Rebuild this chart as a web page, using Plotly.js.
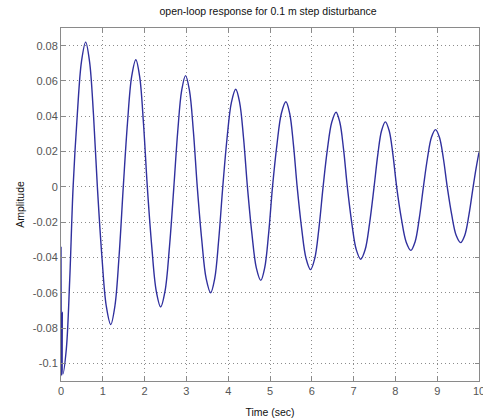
<!DOCTYPE html>
<html>
<head>
<meta charset="utf-8">
<script src="https://cdn.plot.ly/plotly-3.0.1.min.js"></script>
<style>html,body{margin:0;padding:0;background:#fff;}#chart{width:483px;height:418px;}</style>
</head>
<body>
<div id="chart"></div>
<script>
// Values: initial transient, then for every oscillation
// the extremes, zero crossings and points along each slope.
const timeSec = [0, 0.012, 0.03, 0.045, 0.127, 0.208, 0.29,
  0.39, 0.49, 0.59, 0.683, 0.777, 0.87,
  0.977, 1.083, 1.19, 1.29, 1.39, 1.49,
  1.59, 1.69, 1.79, 1.882, 1.973, 2.065,
  2.172, 2.278, 2.385, 2.49, 2.595, 2.70,
  2.793, 2.887, 2.98, 3.073, 3.167, 3.26,
  3.367, 3.473, 3.58, 3.677, 3.773, 3.87,
  3.973, 4.077, 4.18, 4.273, 4.367, 4.46,
  4.567, 4.673, 4.78, 4.873, 4.967, 5.06,
  5.167, 5.273, 5.38, 5.47, 5.56, 5.65,
  5.757, 5.863, 5.97, 6.07, 6.17, 6.27,
  6.373, 6.477, 6.58, 6.67, 6.76, 6.85,
  6.957, 7.063, 7.17, 7.277, 7.383, 7.49,
  7.58, 7.67, 7.76, 7.85, 7.94, 8.03,
  8.143, 8.257, 8.37, 8.47, 8.57, 8.67,
  8.767, 8.863, 8.96, 9.053, 9.147, 9.24,
  9.347, 9.453, 9.56, 9.66, 9.76, 9.86,
  9.93, 10];
const amplitude = [-0.034, -0.107, -0.071, -0.106, -0.092, -0.053, 0,
  0.041, 0.071, 0.082, 0.071, 0.041, 0,
  -0.039, -0.0675, -0.078, -0.0675, -0.039, 0,
  0.036, 0.0624, 0.072, 0.0624, 0.036, 0,
  -0.034, -0.0589, -0.068, -0.0589, -0.034, 0,
  0.0315, 0.0546, 0.063, 0.0546, 0.0315, 0,
  -0.030, -0.052, -0.060, -0.052, -0.030, 0,
  0.0277, 0.0479, 0.0553, 0.0479, 0.0277, 0,
  -0.0265, -0.0459, -0.053, -0.0459, -0.0265, 0,
  0.0241, 0.0417, 0.0482, 0.0417, 0.0241, 0,
  -0.0235, -0.0406, -0.0469, -0.0406, -0.0235, 0,
  0.0212, 0.0366, 0.0423, 0.0366, 0.0212, 0,
  -0.0205, -0.0355, -0.041, -0.0355, -0.0205, 0,
  0.0184, 0.0319, 0.0368, 0.0319, 0.0184, 0,
  -0.018, -0.0312, -0.036, -0.0312, -0.018, 0,
  0.0162, 0.0281, 0.0324, 0.0281, 0.0162, 0,
  -0.0158, -0.0274, -0.0316, -0.0274, -0.0158, 0,
  0.0105, 0.0196];
const xTicks = [0,1,2,3,4,5,6,7,8,9,10];
const yTicks = [-0.1,-0.08,-0.06,-0.04,-0.02,0,0.02,0.04,0.06,0.08];
const yTickText = ['-0.1','-0.08','-0.06','-0.04','-0.02','0','0.02','0.04','0.06','0.08'];

const FONT = 'Liberation Sans, Arial, sans-serif';
const trace = {
  x: timeSec, y: amplitude, type: 'scatter', mode: 'lines',
  line: {color: '#30309e', width: 1.4, shape: 'spline', smoothing: 1.0},
  hoverinfo: 'skip'
};
const axisCommon = {
  showline: true, linecolor: '#8a8a8a', linewidth: 1, mirror: 'ticks',
  ticks: 'inside', ticklen: 4, tickcolor: '#8a8a8a',
  showgrid: true, gridcolor: '#8c8c8c', griddash: '1px,3px', gridwidth: 1,
  zeroline: false,
  tickfont: {family: FONT, size: 11, color: '#555'}
};
const layout = {
  width: 483, height: 418,
  margin: {l: 61, r: 4, t: 28, b: 37},
  paper_bgcolor: '#fff', plot_bgcolor: '#fff',
  showlegend: false,
  title: {text: 'open-loop response for 0.1 m step disturbance',
          font: {family: FONT, size: 10.5, color: '#111'},
          x: 0.555, xanchor: 'center', y: 0.972, yanchor: 'middle'},
  xaxis: Object.assign({}, axisCommon, {
    range: [0, 10], tickvals: xTicks, ticktext: xTicks.map(String),
    title: {text: 'Time (sec)', standoff: 12, font: {family: FONT, size: 10.5, color: '#111'}}
  }),
  yaxis: Object.assign({}, axisCommon, {
    range: [-0.11, 0.09], tickvals: yTicks, ticktext: yTickText,
    title: {text: 'Amplitude', standoff: 6, font: {family: FONT, size: 10.5, color: '#111'}}
  }),
  annotations: [{
    x: xTicks[xTicks.length - 1], xref: 'x', y: 0, yref: 'paper',
    xanchor: 'center', yanchor: 'top', yshift: -2, showarrow: false,
    text: String(xTicks[xTicks.length - 1]), font: {family: FONT, size: 11, color: '#555'}
  }]
};
Plotly.newPlot('chart', [trace], layout, {displayModeBar: false, staticPlot: true});
</script>
</body>
</html>
